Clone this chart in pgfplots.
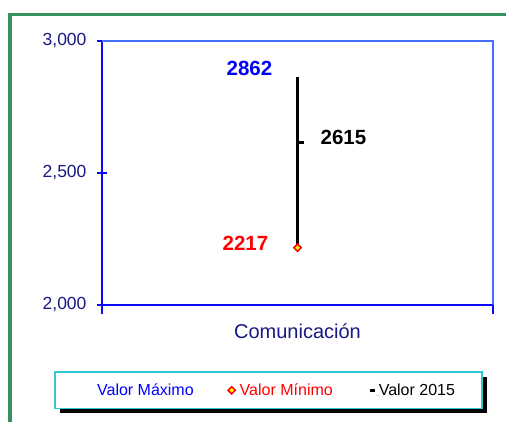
\documentclass[border=0pt]{standalone}
\usepackage{pgfplots}
\pgfplotsset{compat=1.18}
\usepackage{fontspec}
\setmainfont{Liberation Sans}
\usetikzlibrary{shadows}
\definecolor{frgreen}{RGB}{52,145,95}
\definecolor{axblue}{RGB}{10,10,255}
\definecolor{axlight}{RGB}{70,110,255}
\definecolor{lblnavy}{RGB}{25,25,130}
\definecolor{legcyan}{RGB}{50,200,210}
\begin{document}
\begin{tikzpicture}
\path[use as bounding box, clip] (0,0) rectangle (506pt,422pt);
\fill[white] (0,0) rectangle (506pt,422pt);
\draw[frgreen, line width=3.5pt] (10pt,-20pt) -- (10pt,407.3pt) -- (540pt,407.3pt);
\begin{axis}[
  at={(102pt,117pt)}, anchor=south west,
  width=391pt, height=264pt, scale only axis,
  xmin=-1, xmax=1, ymin=2000, ymax=3000,
  axis lines=left,
  axis line style={-, line width=2.2pt, color=axblue},
  ytick={2000,2500,3000},
  xtick={-1,1}, xticklabels={},
  tick align=center,
  major tick length=10pt,
  every tick/.style={line width=1.6pt, color=axblue},
  x tick style={yshift=-4pt},
  extra x ticks={0},
  extra x tick labels={Comunicación},
  extra x tick style={tick style={draw=none}, tick label style={yshift=-10pt}},
  /pgf/number format/assume math mode=true,
  /pgf/number format/fixed,
  /pgf/number format/1000 sep={,},
  tick label style={font=\fontsize{17.5}{20}\selectfont, text=lblnavy},
  xticklabel style={font=\fontsize{20}{23}\selectfont, text=lblnavy},
  yticklabel style={xshift=-7pt},
  clip=false,
  legend columns=3,
  legend style={at={(0.426,-0.323)}, anchor=center,
    draw=legcyan, line width=1.5pt, fill=white,
    inner xsep=25pt, inner ysep=9.5pt,
    drop shadow={shadow xshift=5pt, shadow yshift=-5pt, fill=black, opacity=1},
    font=\fontsize{16}{18}\selectfont,
    /tikz/every even column/.append style={column sep=32pt}},
]
\addplot[black, line width=2.5pt, forget plot] coordinates {(0,2217) (0,2862)};
\addplot[draw=none, mark=none,
  legend image code/.code={\path (0pt,0pt) (15pt,0pt);}]
  coordinates {(0,2862)};
\addlegendentry{\textcolor{blue}{Valor Máximo}}
\addplot[draw=none, mark=square*, mark size=2.6pt,
  mark options={draw=red, fill=yellow, line width=1.5pt, rotate=45},
  legend image code/.code={\path (0pt,0pt) (10pt,0pt);\draw[draw=red, fill=yellow, line width=1.5pt] plot[mark=square*, mark size=2.6pt, mark options={rotate=45}] coordinates {(4pt,0pt)};}]
  coordinates {(0,2217)};
\addlegendentry{\textcolor{red}{Valor Mínimo}\hspace*{2pt}}
\addplot[draw=none, mark=-, mark size=3.6pt,
  mark options={draw=black, line width=3pt, xshift=2.5pt},
  legend image code/.code={\draw[black, line width=3pt] (0pt,0pt) -- (5pt,0pt);}]
  coordinates {(0,2615)};
\addlegendentry{Valor 2015}
\draw[axlight, line width=1.6pt] (rel axis cs:0,1) -- (rel axis cs:1,1) -- (rel axis cs:1,0);
\draw[axblue, line width=2.2pt] (rel axis cs:0,0) -- (rel axis cs:1,0);
\draw[axblue, line width=2.2pt] (rel axis cs:1,0) -- ++(0pt,-7pt);
\node[text=blue, font=\fontsize{20.5}{24}\selectfont\bfseries, xshift=-48pt, yshift=8.6pt] at (axis cs:0,2862) {2862};
\node[text=black, font=\fontsize{20.5}{24}\selectfont\bfseries, xshift=46pt, yshift=5.6pt] at (axis cs:0,2615) {2615};
\node[text=red, font=\fontsize{20.5}{24}\selectfont\bfseries, xshift=-52pt, yshift=4.2pt] at (axis cs:0,2217) {2217};
\end{axis}
\end{tikzpicture}
\end{document}
